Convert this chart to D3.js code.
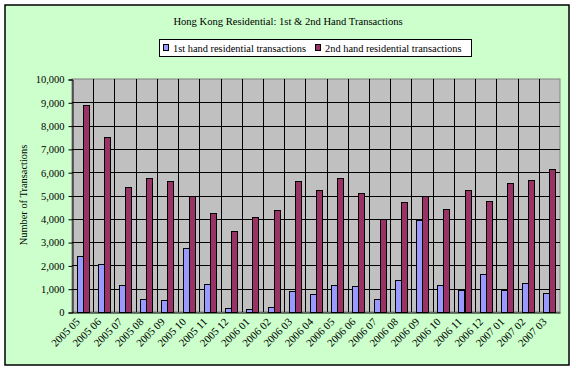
<!DOCTYPE html>
<html>
<head>
<meta charset="utf-8">
<script src="https://cdn.jsdelivr.net/npm/d3@7"></script>
<style>
  body { margin: 0; background: #fff; }
  text { font-family: "Liberation Serif", "Times New Roman", serif; fill: #000; }
</style>
</head>
<body>
<svg id="chart" width="576" height="371"></svg>
<script>
// months on the category axis
var months = ['2005 05', '2005 06', '2005 07', '2005 08', '2005 09', '2005 10', '2005 11', '2005 12',
  '2006 01', '2006 02', '2006 03', '2006 04', '2006 05', '2006 06', '2006 07', '2006 08',
  '2006 09', '2006 10', '2006 11', '2006 12', '2007 01', '2007 02', '2007 03'];
var firstHand = [2390, 2050, 1145, 560, 515, 2730, 1200, 170, 130, 215, 900,
  760, 1145, 1100, 545, 1360, 3930, 1145, 945, 1615, 945, 1230, 800];
var secondHand = [8880, 7500, 5350, 5740, 5610, 4965, 4235, 3460, 4075, 4365, 5610,
  5220, 5740, 5095, 4005, 4705, 4965, 4405, 5220, 4750, 5520, 5650, 6140];
var yTicks = [0, 1000, 2000, 3000, 4000, 5000, 6000, 7000, 8000, 9000, 10000];
var seriesNames = ['1st hand residential transactions', '2nd hand residential transactions'];
var seriesColors = ['#9999ff', '#993366'];

var svg = d3.select('#chart');
var plot = { left: 72, top: 79, right: 560, bottom: 312 };

// chart area
svg.append('rect')
  .attr('x', 5).attr('y', 5).attr('width', 564).attr('height', 360)
  .attr('fill', '#ccffcc').attr('stroke', '#000').attr('stroke-width', 1.5);

svg.append('text')
  .attr('x', 288).attr('y', 25)
  .attr('text-anchor', 'middle')
  .style('font-size', '10.6px')
  .text('Hong Kong Residential: 1st & 2nd Hand Transactions');

// legend
var legend = svg.append('g');
legend.append('rect')
  .attr('x', 159.5).attr('y', 39.5).attr('width', 312).attr('height', 17)
  .attr('fill', '#fff').attr('stroke', '#000');
var legendX = [163, 315];
seriesNames.forEach(function (name, i) {
  legend.append('rect')
    .attr('x', legendX[i] + 0.5).attr('y', 44.5).attr('width', 5).attr('height', 6)
    .attr('fill', seriesColors[i]).attr('stroke', '#000');
  legend.append('text')
    .attr('x', legendX[i] + 10).attr('y', 51.5)
    .style('font-size', '10.4px')
    .text(name);
});

var x = d3.scaleBand()
  .domain(months)
  .range([plot.left, plot.right]);
// gap width 150% -> two bars take 2/3.5 of the band
var barW = x.bandwidth() / 3.5;
var y = d3.scaleLinear()
  .domain([0, 10000])
  .range([plot.bottom, plot.top]);

svg.append('rect')
  .attr('x', plot.left).attr('y', plot.top)
  .attr('width', plot.right - plot.left).attr('height', plot.bottom - plot.top)
  .attr('fill', '#c0c0c0').attr('stroke', '#808080');

// gridlines
svg.append('g').selectAll('line.h')
  .data(yTicks.slice(1, -1))
  .enter().append('line')
  .attr('x1', plot.left).attr('x2', plot.right)
  .attr('y1', function (d) { return Math.round(y(d)) + 0.5; })
  .attr('y2', function (d) { return Math.round(y(d)) + 0.5; })
  .attr('stroke', '#000');
svg.append('g').selectAll('line.v')
  .data(months.slice(1))
  .enter().append('line')
  .attr('x1', function (d) { return Math.round(x(d)) + 0.5; })
  .attr('x2', function (d) { return Math.round(x(d)) + 0.5; })
  .attr('y1', plot.top).attr('y2', plot.bottom)
  .attr('stroke', '#000');

// bars
var data = [firstHand, secondHand];
data.forEach(function (vals, s) {
  svg.append('g').selectAll('rect')
    .data(vals)
    .enter().append('rect')
    .attr('x', function (d, i) { return Math.round(x(months[i]) + barW * (0.75 + s)) + 0.5; })
    .attr('y', function (d) { return Math.round(y(d)) + 0.5; })
    .attr('width', Math.round(barW))
    .attr('height', function (d) { return Math.round(y(0)) - Math.round(y(d)); })
    .attr('fill', seriesColors[s])
    .attr('stroke', '#000');
});

// y axis
var yAxis = svg.append('g')
  .attr('transform', 'translate(' + (plot.left + 0.5) + ',0.5)')
  .call(d3.axisLeft(y).tickValues(yTicks).tickSize(4).tickPadding(4)
    .tickFormat(d3.format(',')));
yAxis.selectAll('path').attr('stroke', '#000');
yAxis.selectAll('text')
  .style('font-size', '10.5px')
  .style('font-family', '"Liberation Serif", serif');

// x axis
var xAxis = svg.append('g')
  .attr('transform', 'translate(0,' + (plot.bottom + 0.5) + ')')
  .call(d3.axisBottom(x).tickSize(0).tickPadding(0));
xAxis.select('.domain').attr('stroke', '#000');
xAxis.selectAll('text')
  .style('font-size', '10.8px')
  .style('font-family', '"Liberation Serif", serif')
  .attr('text-anchor', 'end')
  .attr('dy', null)
  .attr('y', 0)
  .attr('transform', 'translate(-2,10) rotate(-45)');

svg.append('text')
  .attr('transform', 'translate(27,195) rotate(-90)')
  .attr('text-anchor', 'middle')
  .style('font-size', '10.4px')
  .text('Number of Transactions');
</script>
</body>
</html>
